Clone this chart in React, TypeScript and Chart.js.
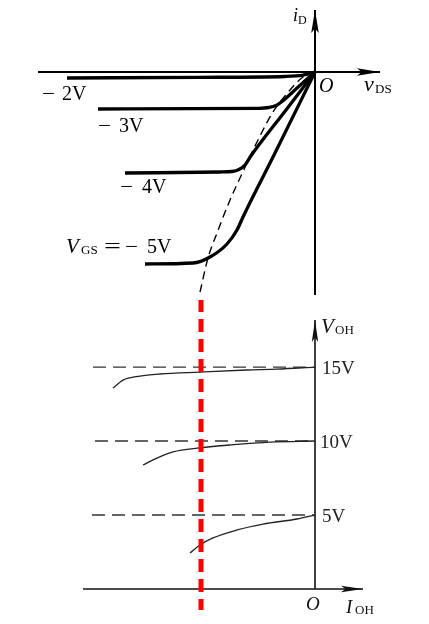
import React, { useEffect, useRef } from 'react';
import { Chart, registerables } from 'chart.js';

Chart.register(...registerables);

// ---------- shared horizontal scale (vDS / IOH, arbitrary units) ----------
const X_MIN = -31.5;
const X_MAX = 11.4;

// ---------- top panel: drain characteristics (iD vs vDS) ----------
const TOP_Y_MIN = -22.8;
const TOP_Y_MAX = 7.2;

const VGS_LABELS = ['2V', '3V', '4V', '5V'];

const VGS2_X = [-24.8, -11.5, -3.0, -1.2, 0];
const VGS2_Y = [-0.6, -0.53, -0.45, -0.32, 0];

const VGS3_X = [-21.7, -5.6, -4.6, -3.9, -3.3, -1.6, 0];
const VGS3_Y = [-3.7, -3.63, -3.55, -3.36, -2.95, -1.43, 0];

const VGS4_X = [-19.0, -9.5, -8.3, -7.6, -7.0, -6.4, -2.9, 0];
const VGS4_Y = [-10.1, -10.0, -9.95, -9.75, -9.3, -8.38, -3.8, 0];

const VGS5_X = [-17.0, -12.2, -10.5, -8.8, -7.8, -7.2, -4.2, 0];
const VGS5_Y = [-19.2, -19.1, -18.5, -17.2, -15.8, -14.5, -8.5, 0];

const PINCH_X = [-11.5, -10.7, -9.8, -8.5, -7.5, -6.8, -5.8, -4.2, -2.5, -1.2, 0];
const PINCH_Y = [-22.0, -18.6, -16.1, -12.8, -10.6, -9.1, -7.0, -4.0, -1.8, -0.5, 0];

const TOP_HAXIS_X = [-27.7, 6.5];
const TOP_VAXIS_Y = [-22.3, 6.2];

// ---------- bottom panel: output characteristics (VOH vs IOH) ----------
const BOT_Y_MIN = -2.365;
const BOT_Y_MAX = 19.53;

const VOH_LEVELS = [15, 10, 5];
const VOH_TICK_LABELS = ['15V', '10V', '5V'];
const LEVEL_START_X = [-22.2, -22.0, -22.3];

const OUT15_X = [-20.2, -19.2, -17.5, -15.5, -11.5, -6.8, -3.8, 0];
const OUT15_Y = [13.58, 14.12, 14.39, 14.53, 14.66, 14.8, 14.86, 15.0];

const OUT10_X = [-17.2, -15.8, -14.2, -11.5, -8.5, -4.5, 0];
const OUT10_Y = [8.38, 8.85, 9.26, 9.53, 9.73, 9.93, 10.0];

const OUT5_X = [-12.5, -11.5, -10.2, -7.8, -5.2, -1.8, 0];
const OUT5_Y = [2.43, 2.97, 3.45, 3.99, 4.39, 4.73, 5.0];

const MARKER_X = -11.4;
const MARKER_Y = [19.6, -1.42];

const BOT_HAXIS_X = [-23.2, 4.8];
const BOT_VAXIS_Y = [0, 18.18];

// ---------- helpers ----------
const SERIF = '"Liberation Serif", "DejaVu Serif", "Times New Roman", serif';

const pts = (xs: number[], ys: number[]) => xs.map((x, i) => ({ x, y: ys[i] }));

function curve(data: { x: number; y: number }[], opts: any) {
  return {
    data,
    showLine: true,
    pointRadius: 0,
    pointHoverRadius: 0,
    fill: false,
    borderColor: '#000',
    cubicInterpolationMode: 'monotone',
    borderJoinStyle: 'round',
    borderCapStyle: 'butt',
    ...opts,
  };
}

function arrow(ctx: CanvasRenderingContext2D, tx: number, ty: number, dir: 'right' | 'up', len: number, hw: number, color: string) {
  ctx.save();
  ctx.fillStyle = color;
  ctx.beginPath();
  if (dir === 'right') {
    ctx.moveTo(tx, ty);
    ctx.lineTo(tx - len, ty - hw);
    ctx.lineTo(tx - len * 0.8, ty);
    ctx.lineTo(tx - len, ty + hw);
  } else {
    ctx.moveTo(tx, ty);
    ctx.lineTo(tx - hw, ty + len);
    ctx.lineTo(tx, ty + len * 0.8);
    ctx.lineTo(tx + hw, ty + len);
  }
  ctx.closePath();
  ctx.fill();
  ctx.restore();
}

function txt(ctx: CanvasRenderingContext2D, t: string, x: number, y: number, font: string, color: string, sx = 1) {
  ctx.save();
  ctx.font = font;
  ctx.fillStyle = color;
  ctx.textBaseline = 'alphabetic';
  ctx.textAlign = 'left';
  ctx.translate(x, y);
  ctx.scale(sx, 1);
  ctx.fillText(t, 0, 0);
  ctx.restore();
}

const topDecor = {
  id: 'topDecor',
  afterDatasetsDraw(chart: any) {
    const { ctx, scales } = chart;
    const sx = scales.x, sy = scales.y;
    const c = '#000';
    arrow(ctx, sx.getPixelForValue(TOP_HAXIS_X[1]), sy.getPixelForValue(0), 'right', 23, 3.8, c);
    arrow(ctx, sx.getPixelForValue(0), sy.getPixelForValue(TOP_VAXIS_Y[1]), 'up', 23, 3.8, c);

    txt(ctx, 'i', 293, 21, `italic 18px ${SERIF}`, c);
    txt(ctx, 'D', 298, 24, `12px ${SERIF}`, c);
    txt(ctx, 'O', 319, 92, `italic 20px ${SERIF}`, c);
    txt(ctx, 'v', 364, 91, `italic 22px ${SERIF}`, c);
    txt(ctx, 'DS', 375, 93, `13px ${SERIF}`, c);

    const big = `20px ${SERIF}`;
    txt(ctx, '\u2212', 42, 100, big, c, 1.15);
    txt(ctx, VGS_LABELS[0], 62, 100, big, c);
    txt(ctx, '\u2212', 98, 132, big, c, 1.15);
    txt(ctx, VGS_LABELS[1], 119, 132, big, c);
    txt(ctx, '\u2212', 120, 193, big, c, 1.15);
    txt(ctx, VGS_LABELS[2], 142, 193, big, c);
    txt(ctx, 'V', 66, 253, `italic 21px ${SERIF}`, c);
    txt(ctx, 'GS', 81, 254, `13px ${SERIF}`, c);
    txt(ctx, '=', 104, 253, big, c, 1.5);
    txt(ctx, '\u2212', 125, 253, big, c, 1.15);
    txt(ctx, VGS_LABELS[3], 147, 253, big, c);
  },
};

const botDecor = {
  id: 'botDecor',
  afterDatasetsDraw(chart: any) {
    const { ctx, scales } = chart;
    const sx = scales.x, sy = scales.y;
    const c = '#111';
    arrow(ctx, sx.getPixelForValue(BOT_HAXIS_X[1]), sy.getPixelForValue(0), 'right', 22, 3.2, c);
    arrow(ctx, sx.getPixelForValue(0), sy.getPixelForValue(BOT_VAXIS_Y[1]), 'up', 22, 3.2, c);

    txt(ctx, 'V', 321, 33, `italic 21px ${SERIF}`, c);
    txt(ctx, 'OH', 335, 34, `13px ${SERIF}`, c);
    const lx = [322, 320, 322];
    VOH_LEVELS.forEach((v, i) => {
      const py = sy.getPixelForValue(v);
      txt(ctx, VOH_TICK_LABELS[i], lx[i], py + 7, `19px ${SERIF}`, '#222');
    });
    txt(ctx, 'O', 306, 310, `italic 19px ${SERIF}`, c);
    txt(ctx, 'I', 346, 313, `italic 19px ${SERIF}`, c);
    txt(ctx, 'OH', 355, 314, `13px ${SERIF}`, c);
  },
};

export default function App() {
  const topRef = useRef<HTMLCanvasElement>(null);
  const botRef = useRef<HTMLCanvasElement>(null);

  useEffect(() => {
    document.body.style.margin = '0';
    const baseOpts = (yMin: number, yMax: number) => ({
      animation: false as const,
      responsive: false,
      devicePixelRatio: 1,
      layout: { padding: 0 },
      events: [],
      plugins: { legend: { display: false }, tooltip: { enabled: false } },
      scales: {
        x: { type: 'linear' as const, min: X_MIN, max: X_MAX, display: false },
        y: { type: 'linear' as const, min: yMin, max: yMax, display: false },
      },
    });

    const top = new Chart(topRef.current!, {
      type: 'scatter',
      data: {
        datasets: [
          curve(pts(VGS2_X, VGS2_Y), { borderWidth: 3.3, order: 1 }),
          curve(pts(VGS3_X, VGS3_Y), { borderWidth: 3.3, order: 1 }),
          curve(pts(VGS4_X, VGS4_Y), { borderWidth: 3.3, order: 1 }),
          curve(pts(VGS5_X, VGS5_Y), { borderWidth: 3.3, order: 1 }),
          curve(pts(PINCH_X, PINCH_Y), { borderWidth: 1.4, borderDash: [8, 5], order: 2 }),
          curve(pts(TOP_HAXIS_X, [0, 0]), { borderWidth: 2, tension: 0, cubicInterpolationMode: 'default', order: 3 }),
          curve(pts([0, 0], TOP_VAXIS_Y), { borderWidth: 2, tension: 0, cubicInterpolationMode: 'default', order: 3 }),
        ],
      },
      options: baseOpts(TOP_Y_MIN, TOP_Y_MAX) as any,
      plugins: [topDecor],
    });

    const levelSets = VOH_LEVELS.map((v, i) =>
      curve(pts([LEVEL_START_X[i], 0], [v, v]), {
        borderWidth: 1.3,
        borderColor: '#333',
        borderDash: [13, 7],
        tension: 0,
        cubicInterpolationMode: 'default',
        order: 3,
      })
    );

    const bot = new Chart(botRef.current!, {
      type: 'scatter',
      data: {
        datasets: [
          curve(pts([MARKER_X, MARKER_X], MARKER_Y), {
            borderWidth: 5,
            borderColor: '#ff0000',
            borderDash: [13, 7],
            tension: 0,
            cubicInterpolationMode: 'default',
            order: 0,
          }),
          curve(pts(OUT15_X, OUT15_Y), { borderWidth: 1.3, borderColor: '#222', order: 2 }),
          curve(pts(OUT10_X, OUT10_Y), { borderWidth: 1.3, borderColor: '#222', order: 2 }),
          curve(pts(OUT5_X, OUT5_Y), { borderWidth: 1.3, borderColor: '#222', order: 2 }),
          ...levelSets,
          curve(pts(BOT_HAXIS_X, [0, 0]), { borderWidth: 1.6, borderColor: '#111', tension: 0, cubicInterpolationMode: 'default', order: 4 }),
          curve(pts([0, 0], BOT_VAXIS_Y), { borderWidth: 1.6, borderColor: '#111', tension: 0, cubicInterpolationMode: 'default', order: 4 }),
        ],
      },
      options: baseOpts(BOT_Y_MIN, BOT_Y_MAX) as any,
      plugins: [botDecor],
    });

    return () => {
      top.destroy();
      bot.destroy();
    };
  }, []);

  return (
    <div style={{ position: 'absolute', left: 0, top: 0, width: 429, height: 624, background: '#fff' }}>
      <canvas ref={topRef} width={429} height={300} style={{ display: 'block', width: 429, height: 300 }} />
      <canvas ref={botRef} width={429} height={324} style={{ display: 'block', width: 429, height: 324 }} />
    </div>
  );
}
